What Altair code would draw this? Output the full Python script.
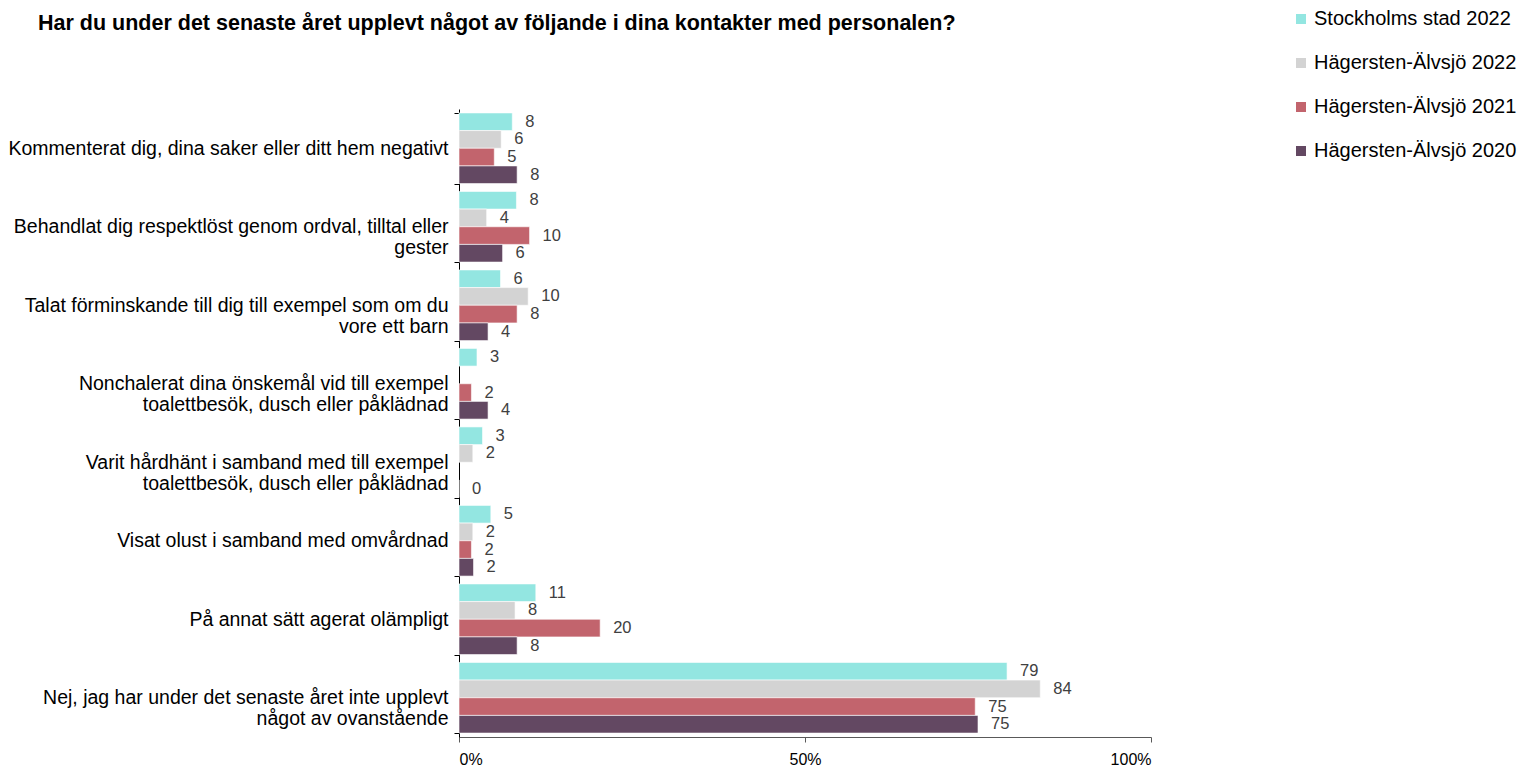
import altair as alt
import pandas as pd

categories = [
    "Kommenterat dig, dina saker eller ditt hem negativt",
    "Behandlat dig respektlöst genom ordval, tilltal eller\ngester",
    "Talat förminskande till dig till exempel som om du\nvore ett barn",
    "Nonchalerat dina önskemål vid till exempel\ntoalettbesök, dusch eller påklädnad",
    "Varit hårdhänt i samband med till exempel\ntoalettbesök, dusch eller påklädnad",
    "Visat olust i samband med omvårdnad",
    "På annat sätt agerat olämpligt",
    "Nej, jag har under det senaste året inte upplevt\nnågot av ovanstående",
]
series = [
    "Stockholms stad 2022",
    "Hägersten-Älvsjö 2022",
    "Hägersten-Älvsjö 2021",
    "Hägersten-Älvsjö 2020",
]
colors = ["#93E6E1", "#D3D3D3", "#C2646D", "#634862"]

stockholm_2022 = [7.7, 8.3, 6.0, 2.6, 3.4, 4.6, 11.1, 79.2]
hagersten_2022 = [6.1, 4.0, 10.0, None, 2.0, 2.0, 8.1, 84.0]
hagersten_2021 = [5.1, 10.2, 8.4, 1.8, None, 1.8, 20.4, 74.6]
hagersten_2020 = [8.4, 6.3, 4.2, 4.2, 0.0, 2.1, 8.4, 75.0]

all_values = [stockholm_2022, hagersten_2022, hagersten_2021, hagersten_2020]
rows = []
for s_i, (s, vals) in enumerate(zip(series, all_values)):
    for c, v in zip(categories, vals):
        if v is None:
            continue
        rows.append({"kategori": c, "serie": s, "order": s_i, "värde": v})
df = pd.DataFrame(rows)

y_enc = alt.Y(
    "kategori:N",
    sort=categories,
    title=None,
    scale=alt.Scale(paddingInner=0.1, paddingOuter=0.05),
    axis=alt.Axis(
        labelExpr="split(datum.label, '\\n')",
        labelFont="Liberation Sans",
        labelFontSize=19.5,
        labelColor="#000000",
        labelLineHeight=21,
        labelAlign="right",
        labelPadding=6,
        labelLimit=0,
        tickBand="extent",
        tickSize=5,
        tickColor="#000000",
        domainColor="#000000",
        grid=False,
    ),
)

x_enc = alt.X(
    "värde:Q",
    title=None,
    scale=alt.Scale(domain=[0, 100], nice=False),
    axis=alt.Axis(
        values=[0, 50, 100],
        labelExpr="datum.value + '%'",
        labelFont="Liberation Sans",
        labelFontSize=16,
        labelColor="#000000",
        tickSize=5,
        tickColor="#595959",
        domainColor="#595959",
        grid=False,
        labelPadding=9,
    ),
)

base = alt.Chart(df).encode(
    y=y_enc,
    yOffset=alt.YOffset("serie:N", sort=series),
)

bars = base.mark_bar(stroke="white", strokeWidth=0.6).encode(
    x=x_enc,
    color=alt.Color(
        "serie:N",
        sort=series,
        scale=alt.Scale(domain=series, range=colors),
        legend=alt.Legend(
            title=None,
            orient="none",
            legendX=832,
            legendY=-100,
            labelFont="Liberation Sans",
            labelFontSize=20,
            labelColor="#000000",
            labelLimit=0,
            symbolType="square",
            symbolSize=100,
            symbolStrokeWidth=0,
            rowPadding=24,
            labelOffset=3,
        ),
    ),
)

labels = base.mark_text(
    align="left",
    baseline="middle",
    dx=13,
    font="Liberation Sans",
    fontSize=16.5,
    color="#404040",
).encode(
    x="värde:Q",
    text=alt.Text("värde:Q", format=".0f"),
)

chart = (
    alt.layer(bars, labels)
    .properties(
        width=692,
        height=628,
        title=alt.TitleParams(
            "Har du under det senaste året upplevt något av följande i dina kontakter med personalen?",
            anchor="start",
            frame="group",
            dx=-421,
            offset=-25,
            font="Liberation Sans",
            fontSize=21.5,
            fontWeight="bold",
            color="#000000",
        ),
        autosize=alt.AutoSizeParams(type="none"),
        padding={"left": 451, "top": 101, "right": 371, "bottom": 30},
    )
    .configure(background="white", view=alt.ViewConfig(stroke="transparent", strokeWidth=0))
)

chart.save("out.html", embed_options={"renderer": "svg", "actions": False})
